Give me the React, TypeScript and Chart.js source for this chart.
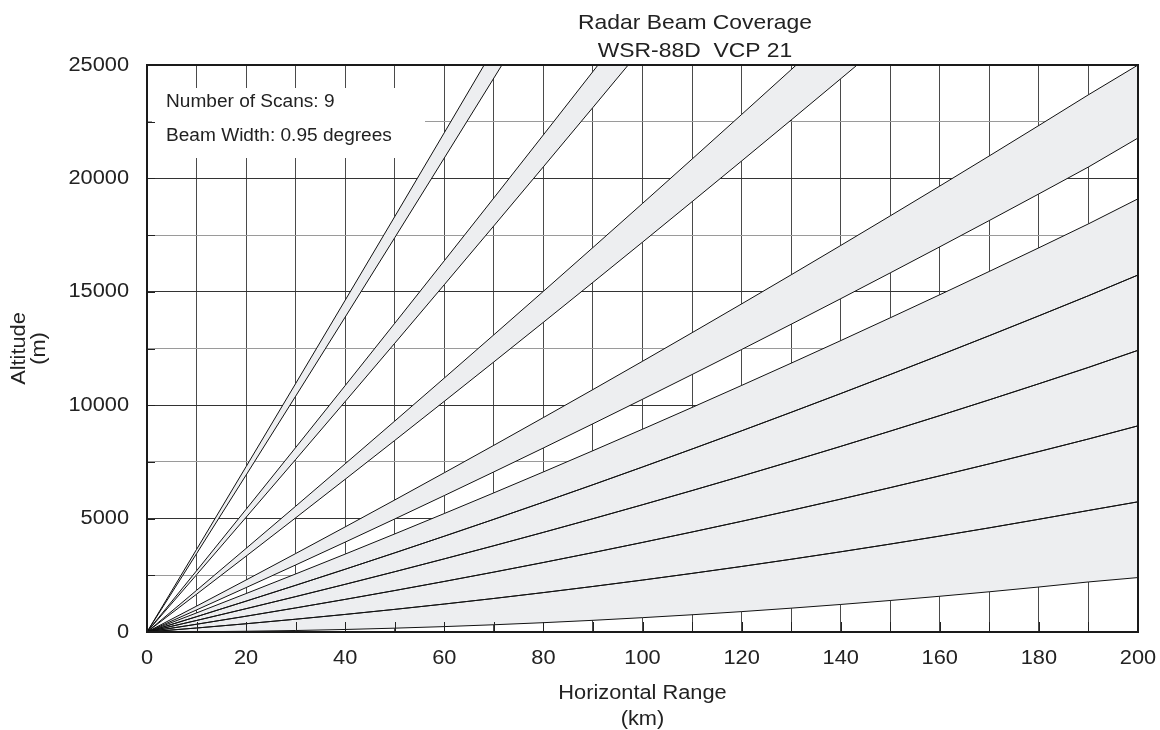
import React, { useEffect, useRef } from "react";
import { Chart, registerables } from "chart.js";

Chart.register(...registerables);

// Horizontal range samples (km)
const RANGE_KM = [0, 10, 20, 30, 40, 50, 60, 70, 80, 90, 100, 110, 120, 130, 140, 150, 160, 170, 180, 190, 200];

// Beam edge altitudes (m) read along the range samples
const EDGE_0_025 = [0, 10, 32, 66, 111, 169, 238, 319, 411, 515, 632, 760, 899, 1051, 1214, 1389, 1576, 1774, 1984, 2207, 2400];
const EDGE_0_975 = [0, 176, 364, 564, 775, 998, 1233, 1479, 1738, 2008, 2290, 2584, 2889, 3207, 3536, 3877, 4229, 4593, 4970, 5358, 5740];
const EDGE_1_925 = [0, 342, 696, 1061, 1438, 1828, 2229, 2641, 3065, 3501, 3949, 4409, 4880, 5363, 5858, 6366, 6884, 7414, 7956, 8510, 9090];
const EDGE_2_875 = [0, 508, 1028, 1560, 2103, 2658, 3225, 3803, 4394, 4996, 5610, 6236, 6873, 7523, 8184, 8857, 9541, 10237, 10946, 11666, 12420];
const EDGE_3_825 = [0, 675, 1361, 2059, 2768, 3490, 4224, 4968, 5725, 6493, 7274, 8067, 8870, 9686, 10513, 11353, 12204, 13066, 13941, 14827, 15740];
const EDGE_4_775 = [0, 841, 1695, 2559, 3435, 4324, 5224, 6135, 7058, 7994, 8941, 9900, 10871, 11853, 12847, 13854, 14871, 15900, 16941, 17995, 19100];
const EDGE_5_525 = [0, 973, 1959, 2955, 3963, 4984, 6016, 7059, 8114, 9182, 10261, 11352, 12455, 13569, 14695, 15834, 16983, 18144, 19317, 20503, 21780];
const EDGE_6_475 = [0, 1141, 2294, 3458, 4634, 5822, 7021, 8232, 9455, 10690, 11937, 13196, 14466, 15748, 17042, 18348, 19664, 20993, 22334, 23687, 25000];
const EDGE_9_425 = [0, 1666, 3344, 5033, 6734, 8447, 10172, 11908, 13656, 15416, 17188, 18972, 20767, 22574, 24393, 26224, 28066, 29920, 31786, 33664, 35553];
const EDGE_10_375 = [0, 1837, 3686, 5545, 7417, 9301, 11197, 13104, 15022, 16953, 18896, 20851, 22817, 24794, 26784, 28786, 30799, 32824, 34860, 36909, 38969];
const EDGE_14_125 = [0, 2523, 5058, 7604, 10162, 12732, 15314, 17907, 20512, 23129, 25758, 28399, 31051, 33715, 36391, 39079, 41778, 44489, 47212, 49947, 52693];
const EDGE_15_075 = [0, 2699, 5410, 8132, 10866, 13612, 16370, 19139, 21920, 24713, 27518, 30335, 33163, 36003, 38855, 41719, 44594, 47481, 50380, 53291, 56213];
const EDGE_19_025 = [0, 3454, 6920, 10397, 13886, 17387, 20900, 24424, 27960, 31508, 35068, 38640, 42223, 45818, 49425, 53044, 56674, 60316, 63970, 67636, 71313];
const EDGE_19_975 = [0, 3640, 7292, 10955, 14630, 18317, 22016, 25726, 29448, 33182, 36928, 40686, 44455, 48236, 52029, 55834, 59650, 63478, 67318, 71170, 75033];

// The 9 scans: [lower edge, upper edge]
const BEAMS: number[][][] = [
  [EDGE_0_025, EDGE_0_975],
  [EDGE_0_975, EDGE_1_925],
  [EDGE_1_925, EDGE_2_875],
  [EDGE_2_875, EDGE_3_825],
  [EDGE_3_825, EDGE_4_775],
  [EDGE_5_525, EDGE_6_475],
  [EDGE_9_425, EDGE_10_375],
  [EDGE_14_125, EDGE_15_075],
  [EDGE_19_025, EDGE_19_975],
];

const X_LABEL_STEP = 20;
const Y_LABEL_STEP = 5000;
const TITLE_LINES = ["Radar Beam Coverage", "WSR-88D  VCP 21"];
const X_TITLE_LINES = ["Horizontal Range", "(km)"];
const Y_TITLE_LINES = ["Altitude", "(m)"];
const INFO_LINES = ["Number of Scans: 9", "Beam Width: 0.95 degrees"];

const FONT = "'Liberation Sans', Arial, Helvetica, sans-serif";
const TEXT = "#222";
const BAND_FILL = "#edeef0";
const STRETCH = 1.09;

function stretchedText(ctx: CanvasRenderingContext2D, text: string, x: number, y: number, align: CanvasTextAlign, rotate = 0) {
  ctx.save();
  ctx.translate(x, y);
  if (rotate) ctx.rotate(rotate);
  ctx.scale(STRETCH, 1);
  ctx.textAlign = align;
  ctx.textBaseline = "middle";
  ctx.fillText(text, 0, 0);
  ctx.restore();
}

export default function App() {
  const ref = useRef<HTMLCanvasElement>(null);

  useEffect(() => {
    const canvas = ref.current;
    if (!canvas) return;

    const toPoints = (vals: number[]) => RANGE_KM.map((x, i) => ({ x, y: vals[i] }));
    const datasets: any[] = [];
    BEAMS.forEach(([lower, upper]) => {
      const lowerIndex = datasets.length;
      datasets.push({
        data: toPoints(lower),
        borderColor: "#111",
        borderWidth: 1,
        pointRadius: 0,
        tension: 0,
        fill: false,
      });
      datasets.push({
        data: toPoints(upper),
        borderColor: "#111",
        borderWidth: 1,
        pointRadius: 0,
        tension: 0,
        fill: { target: lowerIndex },
        backgroundColor: BAND_FILL,
      });
    });

    const infoBox = {
      id: "infoBox",
      beforeDatasetsDraw(chart: any) {
        const ctx = chart.ctx;
        ctx.save();
        ctx.fillStyle = "#fff";
        ctx.fillRect(152, 88, 273, 70);
        ctx.fillStyle = TEXT;
        ctx.font = `17.5px ${FONT}`;
        stretchedText(ctx, INFO_LINES[0], 166, 102, "left");
        stretchedText(ctx, INFO_LINES[1], 166, 136, "left");
        ctx.restore();
      },
    };

    const frame = {
      id: "frame",
      afterDatasetsDraw(chart: any) {
        const ctx = chart.ctx;
        const a = chart.chartArea;
        const xs = chart.scales.x;
        const ys = chart.scales.y;
        ctx.save();
        ctx.strokeStyle = "#222";
        ctx.lineWidth = 1;
        ctx.beginPath();
        xs.ticks.forEach((t: any) => {
          const px = Math.round(xs.getPixelForValue(t.value)) + 0.5;
          ctx.moveTo(px, a.bottom);
          ctx.lineTo(px, a.bottom - 10);
        });
        ys.ticks.forEach((t: any) => {
          const py = Math.round(ys.getPixelForValue(t.value)) + 0.5;
          ctx.moveTo(a.left, py);
          ctx.lineTo(a.left + 8, py);
        });
        ctx.stroke();
        ctx.lineWidth = 2;
        ctx.strokeStyle = "#1a1a1a";
        ctx.strokeRect(a.left, a.top, a.right - a.left, a.bottom - a.top);
        ctx.restore();
      },
      afterDraw(chart: any) {
        const ctx = chart.ctx;
        const a = chart.chartArea;
        const xs = chart.scales.x;
        const ys = chart.scales.y;
        ctx.save();
        ctx.fillStyle = TEXT;
        // tick labels
        ctx.font = `20px ${FONT}`;
        xs.ticks.forEach((t: any) => {
          if (t.value % X_LABEL_STEP !== 0) return;
          stretchedText(ctx, String(t.value), xs.getPixelForValue(t.value), 658, "center");
        });
        ys.ticks.forEach((t: any) => {
          if (t.value % Y_LABEL_STEP !== 0) return;
          stretchedText(ctx, String(t.value), 129, ys.getPixelForValue(t.value), "right");
        });
        // titles
        ctx.font = `21px ${FONT}`;
        stretchedText(ctx, TITLE_LINES[0], 695, 23, "center");
        stretchedText(ctx, TITLE_LINES[1], 695, 51, "center");
        ctx.font = `20px ${FONT}`;
        const cx = (a.left + a.right) / 2;
        stretchedText(ctx, X_TITLE_LINES[0], cx, 693, "center");
        stretchedText(ctx, X_TITLE_LINES[1], cx, 719, "center");
        const cy = (a.top + a.bottom) / 2;
        stretchedText(ctx, Y_TITLE_LINES[0], 19, cy, "center", -Math.PI / 2);
        stretchedText(ctx, Y_TITLE_LINES[1], 39, cy, "center", -Math.PI / 2);
        ctx.restore();
      },
    };

    const chart = new Chart(canvas, {
      type: "line",
      data: { datasets },
      options: {
        responsive: false,
        animation: false,
        devicePixelRatio: 1,
        layout: { padding: { top: 65, right: 22, left: 0, bottom: 0 } },
        font: { family: FONT },
        plugins: {
          legend: { display: false },
          title: { display: false },
          tooltip: { enabled: false },
          filler: { propagate: false, drawTime: "beforeDatasetsDraw" },
        } as any,
        scales: {
          x: {
            type: "linear",
            min: 0,
            max: 200,
            border: { display: false },
            grid: { color: "#4a4a4a", lineWidth: 1, drawTicks: false },
            ticks: {
              display: false,
              stepSize: 10,
              autoSkip: false,
              maxRotation: 0,
            },
            afterFit: (s: any) => {
              s.height = 98;
              s.paddingLeft = 0;
              s.paddingRight = 0;
            },
          },
          y: {
            type: "linear",
            min: 0,
            max: 25000,
            border: { display: false },
            grid: {
              color: (c: any) => (c.tick && c.tick.value % 5000 === 0 ? "#333" : "#9a9a9a"),
              lineWidth: 1,
              drawTicks: false,
            },
            ticks: {
              display: false,
              stepSize: 2500,
              autoSkip: false,
            },
            afterFit: (s: any) => {
              s.width = 147;
              s.paddingTop = 0;
              s.paddingBottom = 0;
            },
          },
        },
      },
      plugins: [infoBox, frame],
    });

    return () => chart.destroy();
  }, []);

  return (
    <div style={{ position: "absolute", left: 0, top: 0, width: 1160, height: 730, background: "#fff" }}>
      <canvas ref={ref} width={1160} height={730} style={{ width: "1160px", height: "730px", display: "block" }} />
    </div>
  );
}
